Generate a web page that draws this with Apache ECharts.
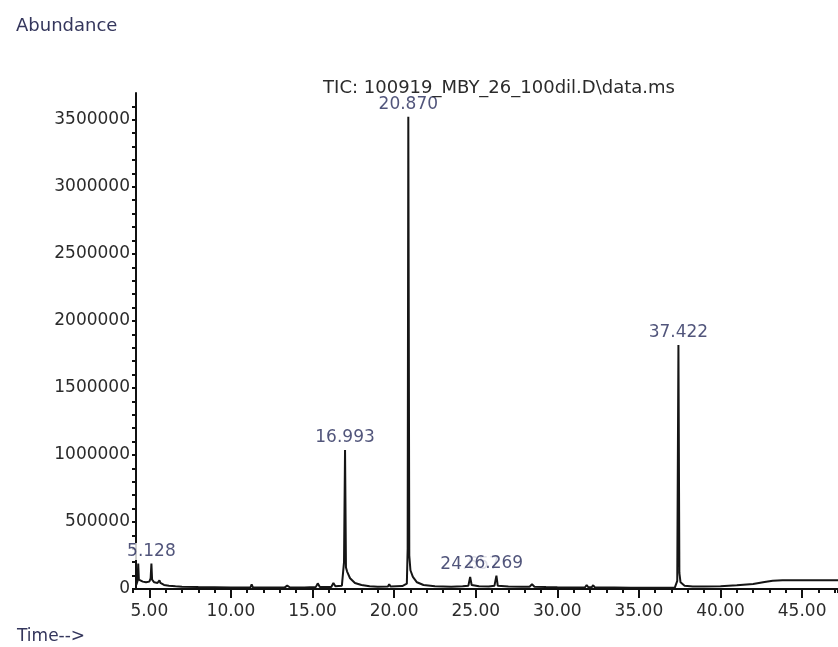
<!DOCTYPE html>
<html>
<head>
<meta charset="utf-8">
<script src="https://cdn.jsdelivr.net/npm/echarts@6/dist/echarts.min.js"></script>
<style>
  html, body { margin: 0; padding: 0; background: #fff; }
  #chart { width: 838px; height: 647px; }
</style>
</head>
<body>
<div id="chart"></div>
<script>
// retention time (min) and abundance of the TIC trace
const tiempos = [
  4.20, 4.28, 4.32, 4.36, 4.45, 4.60, 4.80, 5.00, 5.08, 5.128, 5.17, 5.30, 5.50, 5.62, 5.68, 5.90, 6.20, 6.60, 7.00,
  8.00, 9.00, 10.00, 11.00, 11.20, 11.27, 11.35, 12.50, 13.30, 13.45, 13.60, 14.50, 15.20, 15.32, 15.45,
  16.15, 16.28, 16.40, 16.80, 16.93, 16.993, 17.05, 17.12, 17.30, 17.60, 18.00, 18.50, 19.00, 19.62, 19.70, 19.78,
  20.50, 20.78, 20.83, 20.870, 20.93, 21.00, 21.15, 21.40, 21.80, 22.50, 23.50, 24.20, 24.55, 24.66, 24.75,
  25.20, 25.80, 26.15, 26.269, 26.35, 27.00, 27.80, 28.30, 28.45, 28.60, 29.30, 30.00, 31.00, 31.70, 31.80, 31.90,
  32.10, 32.20, 32.30, 33.50, 34.50, 35.50, 36.50, 37.20, 37.35, 37.422, 37.48, 37.55, 37.80, 38.30, 39.00,
  40.00, 41.00, 42.00, 42.70, 43.20, 43.80, 44.50, 45.50, 46.50, 47.20
];
const abundancia = [
  30000, 60000, 190000, 70000, 60000, 55000, 50000, 55000, 80000, 190000, 70000, 50000, 45000, 65000, 45000, 30000, 25000, 20000, 16000,
  14000, 13000, 12000, 12000, 13000, 35000, 12000, 11000, 12000, 25000, 13000, 12000, 14000, 42000, 15000,
  15000, 45000, 20000, 25000, 200000, 1037000, 160000, 130000, 80000, 45000, 30000, 20000, 17000, 18000, 35000, 18000,
  22000, 40000, 300000, 3522000, 250000, 140000, 90000, 50000, 30000, 20000, 17000, 20000, 25000, 90000, 30000,
  20000, 18000, 25000, 100000, 25000, 18000, 16000, 17000, 35000, 17000, 14000, 13000, 12000, 13000, 30000, 13000,
  13000, 28000, 12000, 11000, 10000, 10000, 9000, 10000, 60000, 1821000, 120000, 50000, 25000, 18000, 18000,
  20000, 28000, 38000, 52000, 62000, 66000, 66000, 66000, 66000, 66000
];

// labelled peaks
const picosTiempo = [5.128, 16.993, 20.870, 24.657, 26.269, 37.422];
const picosAltura = [190000, 1037000, 3522000, 90000, 100000, 1821000];
const picosEtiqueta = ["5.128", "16.993", "20.870", "24.657", "26.269", "37.422"];

const titulo = "TIC: 100919_MBY_26_100dil.D\\data.ms";
const fuente = "DejaVu Sans";

const chart = echarts.init(document.getElementById("chart"));

const getOpcion = () => {
  const traza = tiempos.map((t, i) => [t, abundancia[i]]);
  const picos = picosTiempo.map((t, i) => {
    const item = { value: [t, picosAltura[i]], name: picosEtiqueta[i] };
    // a label that lands on the previous one is nudged left and covers it
    if (i > 0 && t - picosTiempo[i - 1] < 2) {
      item.label = { offset: [-3, 0] };
    }
    return item;
  });
  return {
    animation: false,
    backgroundColor: "#fff",
    title: [
      { text: "Abundance", left: 11, top: 12, textStyle: { fontFamily: fuente, fontSize: 18, fontWeight: "normal", color: "#34365c" } },
      { text: titulo, left: 494, top: 74, textAlign: "center", textStyle: { fontFamily: fuente, fontSize: 18, fontWeight: "normal", color: "#2b2b2b" } },
      { text: "Time-->", left: 12, top: 623, textStyle: { fontFamily: fuente, fontSize: 17, fontWeight: "normal", color: "#34365c" } },
    ],
    grid: [
      { left: 133, right: 0, top: 93, bottom: 58 },
      // second grid only carries the major ticks and labels every 5 min
      { left: 149.32, right: 3.24, top: 93, bottom: 58 },
    ],
    xAxis: [
      {
        type: "value", gridIndex: 0, min: 4, max: 47.2, interval: 1,
        axisLine: { lineStyle: { color: "#111", width: 2 } },
        axisTick: { length: 4, lineStyle: { color: "#111", width: 2 } },
        axisLabel: { show: false },
        splitLine: { show: false },
      },
      {
        type: "value", gridIndex: 1, min: 5, max: 47, interval: 5,
        axisLine: { show: false },
        axisTick: { length: 9, lineStyle: { color: "#111", width: 2 } },
        axisLabel: {
          margin: 14, fontFamily: fuente, fontSize: 17, color: "#2b2b2b",
          formatter: (v) => v.toFixed(2),
        },
        splitLine: { show: false },
      },
    ],
    yAxis: [
      {
        type: "value", gridIndex: 0, min: 0, max: 3700000, interval: 100000, offset: -3,
        axisLine: { show: true, lineStyle: { color: "#111", width: 2 } },
        axisTick: { length: 4, lineStyle: { color: "#111", width: 2 } },
        axisLabel: {
          margin: 6, fontFamily: fuente, fontSize: 17, color: "#2b2b2b",
          showMaxLabel: false,
          formatter: (v) => (v % 500000 === 0 ? String(v) : ""),
        },
        splitLine: { show: false },
      },
      { type: "value", gridIndex: 1, min: 0, max: 3700000, show: false },
    ],
    series: [
      {
        type: "line", xAxisIndex: 0, yAxisIndex: 0,
        data: traza, showSymbol: false, symbol: "none",
        lineStyle: { color: "#151515", width: 2 },
        z: 3,
      },
      {
        type: "scatter", xAxisIndex: 0, yAxisIndex: 0,
        data: picos, symbolSize: 1,
        itemStyle: { color: "rgba(0,0,0,0)" },
        label: {
          show: true, position: "top", distance: 3,
          fontFamily: fuente, fontSize: 17, color: "#262a5a",
          backgroundColor: "#fff", padding: [0, 1],
          formatter: (p) => p.name,
        },
        z: 4,
      },
    ],
  };
};

chart.setOption(getOpcion());
</script>
</body>
</html>
